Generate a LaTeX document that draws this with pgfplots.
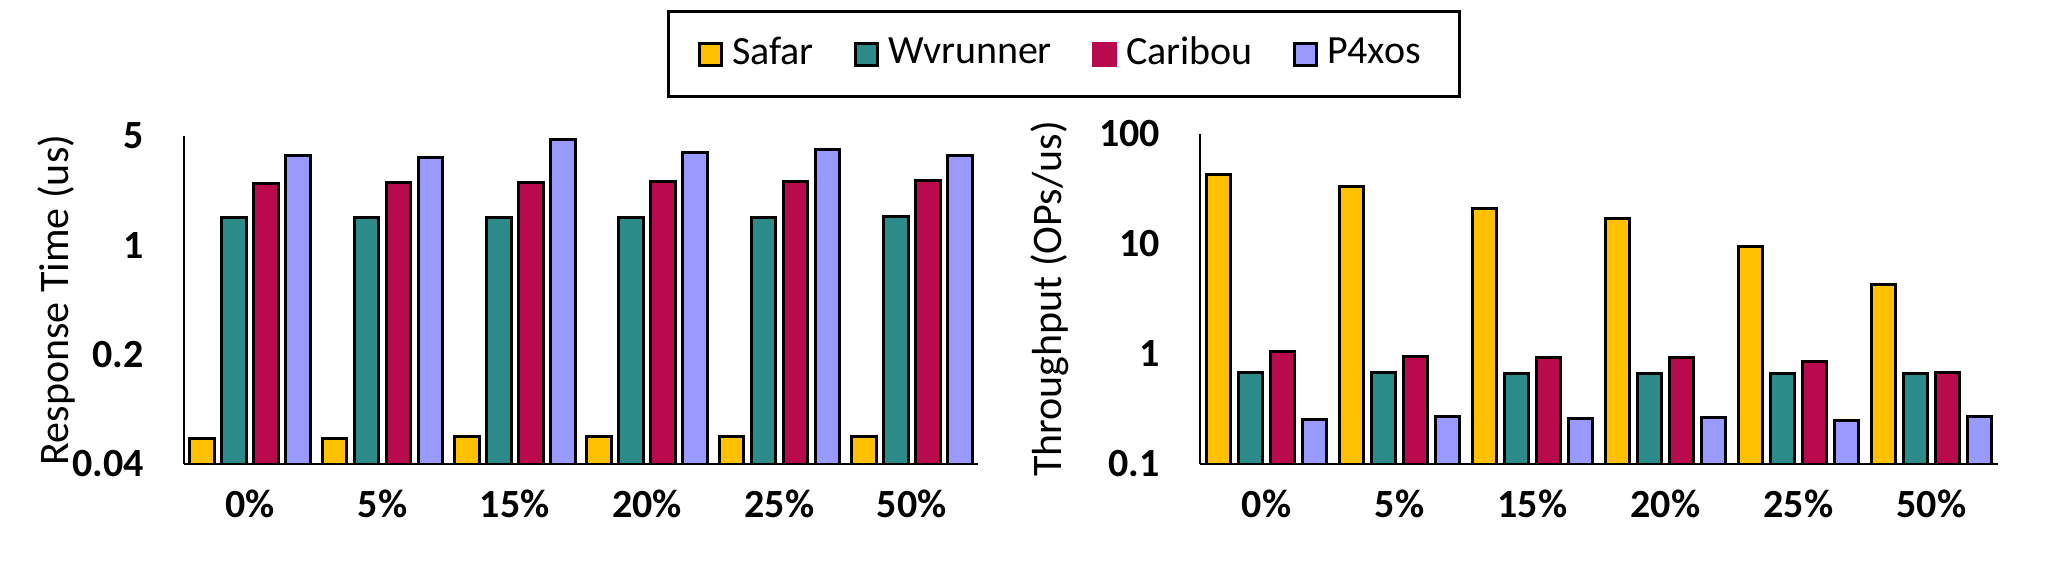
\documentclass[border=0pt]{standalone}
\usepackage{pgfplots}
\pgfplotsset{compat=1.18}
\usepackage{fontspec}
\setmainfont{Carlito}

\definecolor{safar}{HTML}{FFC000}
\definecolor{wvrunner}{HTML}{2A8B89}
\definecolor{caribou}{HTML}{BA0A4E}
\definecolor{pfourxos}{HTML}{9999FF}

\begin{document}
\begin{tikzpicture}[x=1pt,y=1pt]
\path[use as bounding box] (0,0) rectangle (514.75,145);

% response time
\begin{axis}[
  at={(46pt,29pt)}, anchor=south west,
  scale only axis, width=198.5pt, height=82pt,
  ybar=1.85pt, bar width=6.15pt,
  ymode=log, log origin=infty,
  xmin=-0.5, xmax=5.5,
  xtick={0,...,5},
  xticklabels={\textbf{0\%},\textbf{5\%},\textbf{15\%},\textbf{20\%},\textbf{25\%},\textbf{50\%}},
  ymin=0.04, ymax=5,
  ytick={0.04,0.2,1,5},
  yticklabels={\textbf{0.04},\textbf{0.2},\textbf{1},\textbf{5}},
  yminorticks=false,
  axis x line*=bottom, axis y line*=left,
  axis line style={line width=0.7pt},
  major tick length=0pt, minor tick length=0pt,
  font=\fontsize{10}{12}\selectfont,
  yticklabel style={xshift=-6.5pt},
  xticklabel style={yshift=-3pt},
  ylabel={Response Time (us)},
  ylabel style={at={(axis description cs:-0.161,0.5)}, anchor=center, font=\fontsize{10.5}{12}\selectfont},
  legend image code/.code={\draw[#1, line width=0.75pt] (0pt,-2.75pt) rectangle (5.5pt,2.75pt);},
  legend columns=4,
  legend style={at={(axis description cs:1.1083,1.25)}, anchor=center,
    draw=black, line width=0.7pt, font=\fontsize{10}{12}\selectfont,
    inner xsep=7.5pt, inner ysep=4.4pt,
    nodes={inner xsep=2.2pt},
    /tikz/every even column/.append style={column sep=7.9pt}},
]
\addplot[draw=black, line width=0.75pt, fill=safar] coordinates {(0,0.058) (1,0.058) (2,0.060) (3,0.060) (4,0.060) (5,0.060)};
\addplot[draw=black, line width=0.75pt, fill=wvrunner] coordinates {(0,1.51) (1,1.51) (2,1.51) (3,1.51) (4,1.51) (5,1.54)};
\addplot[draw=black, line width=0.75pt, fill=caribou, legend image post style={draw=caribou}] coordinates {(0,2.47) (1,2.52) (2,2.52) (3,2.55) (4,2.55) (5,2.58)};
\addplot[draw=black, line width=0.75pt, fill=pfourxos] coordinates {(0,3.78) (1,3.66) (2,4.77) (3,3.91) (4,4.11) (5,3.78)};
\legend{Safar,Wvrunner,Caribou,P4xos}
\end{axis}

% throughput
\begin{axis}[
  at={(300pt,29pt)}, anchor=south west,
  scale only axis, width=199.5pt, height=82.5pt,
  ybar=1.85pt, bar width=6.15pt,
  ymode=log, log origin=infty,
  xmin=-0.5, xmax=5.5,
  xtick={0,...,5},
  xticklabels={\textbf{0\%},\textbf{5\%},\textbf{15\%},\textbf{20\%},\textbf{25\%},\textbf{50\%}},
  ymin=0.1, ymax=100,
  ytick={0.1,1,10,100},
  yticklabels={\textbf{0.1},\textbf{1},\textbf{10},\textbf{100}},
  yminorticks=false,
  axis x line*=bottom, axis y line*=left,
  axis line style={line width=0.7pt},
  major tick length=0pt, minor tick length=0pt,
  font=\fontsize{10}{12}\selectfont,
  yticklabel style={xshift=-6.5pt},
  xticklabel style={yshift=-3pt},
  ylabel={Throughput (OPs/us)},
  ylabel style={at={(axis description cs:-0.188,0.5)}, anchor=center, font=\fontsize{10.5}{12}\selectfont},
]
\addplot[draw=black, line width=0.75pt, fill=safar] coordinates {(0,42.6) (1,33.1) (2,21.2) (3,17.0) (4,9.47) (5,4.29)};
\addplot[draw=black, line width=0.75pt, fill=wvrunner] coordinates {(0,0.678) (1,0.678) (2,0.668) (3,0.668) (4,0.668) (5,0.668)};
\addplot[draw=black, line width=0.75pt, fill=caribou] coordinates {(0,1.06) (1,0.953) (2,0.933) (3,0.933) (4,0.859) (5,0.682)};
\addplot[draw=black, line width=0.75pt, fill=pfourxos] coordinates {(0,0.256) (1,0.272) (2,0.261) (3,0.267) (4,0.249) (5,0.272)};
\end{axis}
\end{tikzpicture}
\end{document}
